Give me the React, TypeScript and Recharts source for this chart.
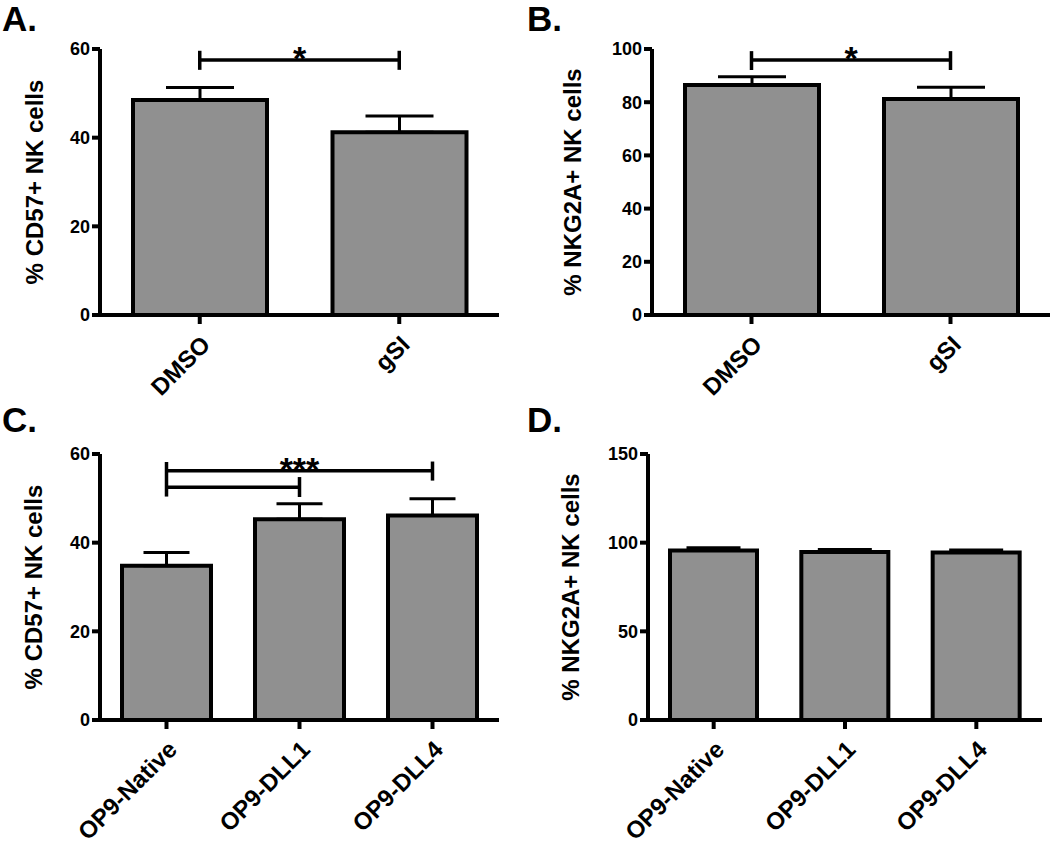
import React from 'react';
import { BarChart, Bar, XAxis, YAxis, ErrorBar, ReferenceLine } from 'recharts';

const FONT = 'Arial, "Liberation Sans", Helvetica, sans-serif';
const BAR_FILL = '#909090';

// panels A/B: treatment
const treatments = ['DMSO', 'gSI'];
const cd57Treat = [48.5, 41.2];
const cd57TreatErr = [2.8, 3.7];
const nkg2aTreat = [86.5, 81.2];
const nkg2aTreatErr = [3.1, 4.4];

// panels C/D: stromal lines
const stroma = ['OP9-Native', 'OP9-DLL1', 'OP9-DLL4'];
const cd57Op = [34.8, 45.3, 46.1];
const cd57OpErr = [3.0, 3.5, 3.8];
const nkg2aOp = [95.6, 94.7, 94.4];
const nkg2aOpErr = [1.5, 1.4, 1.4];

const ticks60 = [0, 20, 40, 60];
const ticks100 = [0, 20, 40, 60, 80, 100];
const ticks150 = [0, 50, 100, 150];

// significance brackets: horizontal spans and vertical end ticks
const bracketsA = [{ from: 'DMSO', to: 'gSI', y: 57.5, star: '*' }];
const bracketTicksA = [{ x: 'DMSO', y1: 55.3, y2: 59.6 }, { x: 'gSI', y1: 55.3, y2: 59.6 }];
const bracketsB = [{ from: 'DMSO', to: 'gSI', y: 95.9, star: '*' }];
const bracketTicksB = [{ x: 'DMSO', y1: 92.1, y2: 99.2 }, { x: 'gSI', y1: 92.1, y2: 99.2 }];
const bracketsC = [
  { from: 'OP9-Native', to: 'OP9-DLL4', y: 56.2, star: '***' },
  { from: 'OP9-Native', to: 'OP9-DLL1', y: 52.5, star: '' },
];
const bracketTicksC = [
  { x: 'OP9-Native', y1: 50.4, y2: 58.2 },
  { x: 'OP9-DLL1', y1: 50.3, y2: 54.8 },
  { x: 'OP9-DLL4', y1: 54.0, y2: 58.3 },
];

const toRows = (cats: string[], vals: number[], errs: number[]) =>
  cats.map((name, i) => ({ name, value: vals[i], err: [0, errs[i]] }));

// rotated category label, top-right corner of the text sits at the tick
const AngledTick = (props: any) => {
  const { x, y, payload } = props;
  return (
    <g transform={`translate(${x},${y})`}>
      <text
        x={0}
        y={0}
        dy="0.71em"
        textAnchor="end"
        transform="rotate(-45)"
        fill="#000"
        fontSize={24}
        fontWeight="bold"
        fontFamily={FONT}
      >
        {payload.value}
      </text>
    </g>
  );
};

interface Bracket { from: string; to: string; y: number; star: string }
interface BracketTick { x: string; y1: number; y2: number }

interface PanelProps {
  letter: string;
  left: number;
  top: number;
  width: number;
  height: number;
  yWidth: number;
  labelX: number;
  marginTop: number;
  marginRight: number;
  xHeight: number;
  data: { name: string; value: number; err: number[] }[];
  ticks: number[];
  yLabel: string;
  barSize: number;
  capWidth: number;
  brackets?: Bracket[];
  bracketTicks?: BracketTick[];
}

const Panel: React.FC<PanelProps> = (p) => {
  const max = p.ticks[p.ticks.length - 1];
  return (
    <div style={{ position: 'absolute', left: p.left, top: p.top, width: p.width, height: p.height }}>
      <BarChart
        width={p.width}
        height={p.height}
        data={p.data}
        margin={{ top: p.marginTop, right: p.marginRight, bottom: 0, left: 0 }}
      >
        <XAxis
          dataKey="name"
          height={p.xHeight}
          axisLine={{ stroke: '#000', strokeWidth: 4 }}
          tickLine={{ stroke: '#000', strokeWidth: 4 }}
          tickSize={9}
          tickMargin={10}
          interval={0}
          tick={<AngledTick />}
        />
        <YAxis
          width={p.yWidth}
          domain={[0, max]}
          ticks={p.ticks}
          interval={0}
          axisLine={{ stroke: '#000', strokeWidth: 4 }}
          tickLine={{ stroke: '#000', strokeWidth: 4 }}
          tickSize={8}
          tickMargin={2}
          tick={{ fill: '#000', fontSize: 18, fontWeight: 'bold', fontFamily: FONT }}
          label={{
            value: p.yLabel,
            angle: -90,
            position: 'insideLeft',
            offset: p.labelX,
            style: { textAnchor: 'middle', fill: '#000', fontSize: 24, fontWeight: 'bold', fontFamily: FONT },
          }}
        />
        <Bar dataKey="value" fill={BAR_FILL} stroke="#000" strokeWidth={4} barSize={p.barSize} isAnimationActive={false}>
          <ErrorBar dataKey="err" direction="y" width={p.capWidth} stroke="#000" strokeWidth={3} isAnimationActive={false} />
        </Bar>
        {(p.brackets || []).map((b, i) => (
          <ReferenceLine
            key={'b' + i}
            segment={[{ x: b.from, y: b.y }, { x: b.to, y: b.y }]}
            stroke="#000"
            strokeWidth={3.5}
            ifOverflow="visible"
            label={b.star ? {
              value: b.star,
              position: 'top',
              offset: -10,
              fill: '#000',
              fontSize: 34,
              fontWeight: 'bold',
              fontFamily: FONT,
            } : undefined}
          />
        ))}
        {(p.bracketTicks || []).map((t, i) => (
          <ReferenceLine
            key={'t' + i}
            segment={[{ x: t.x, y: t.y1 }, { x: t.x, y: t.y2 }]}
            stroke="#000"
            strokeWidth={3.5}
            ifOverflow="visible"
          />
        ))}
      </BarChart>
      <div
        style={{
          position: 'absolute',
          left: 2,
          top: p.top === 0 ? 1 : -18,
          fontFamily: FONT,
          fontWeight: 'bold',
          fontSize: 35,
          lineHeight: 1,
          color: '#000',
        }}
      >
        {p.letter}
      </div>
    </div>
  );
};

const App: React.FC = () => {
  return (
    <div style={{ position: 'absolute', left: 0, top: 0, width: 1050, height: 844, background: '#fff', overflow: 'hidden' }}>
      <Panel
        letter="A."
        left={0} top={0} width={525} height={420}
        yWidth={100} labelX={34} marginTop={49} marginRight={26} xHeight={105}
        data={toRows(treatments, cd57Treat, cd57TreatErr)}
        ticks={ticks60}
        yLabel="% CD57+ NK cells"
        barSize={134} capWidth={34}
        brackets={bracketsA} bracketTicks={bracketTicksA}
      />
      <Panel
        letter="B."
        left={525} top={0} width={525} height={420}
        yWidth={127} labelX={47} marginTop={49} marginRight={0} xHeight={105}
        data={toRows(treatments, nkg2aTreat, nkg2aTreatErr)}
        ticks={ticks100}
        yLabel="% NKG2A+ NK cells"
        barSize={134} capWidth={34}
        brackets={bracketsB} bracketTicks={bracketTicksB}
      />
      <Panel
        letter="C."
        left={0} top={420} width={525} height={424}
        yWidth={100} labelX={33} marginTop={34} marginRight={26} xHeight={124}
        data={toRows(stroma, cd57Op, cd57OpErr)}
        ticks={ticks60}
        yLabel="% CD57+ NK cells"
        barSize={89} capWidth={23}
        brackets={bracketsC} bracketTicks={bracketTicksC}
      />
      <Panel
        letter="D."
        left={525} top={420} width={525} height={424}
        yWidth={123} labelX={45} marginTop={34} marginRight={8} xHeight={124}
        data={toRows(stroma, nkg2aOp, nkg2aOpErr)}
        ticks={ticks150}
        yLabel="% NKG2A+ NK cells"
        barSize={87} capWidth={27}
      />
    </div>
  );
};

export default App;
